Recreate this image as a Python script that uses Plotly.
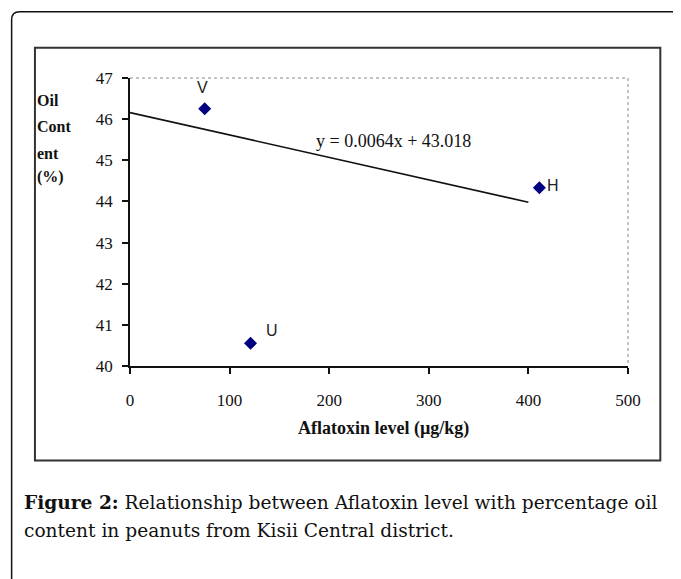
import plotly.graph_objects as go

# ---- data ----
aflatoxin = [75, 121, 411]          # µg/kg
oil_content = [46.25, 40.55, 44.33] # %
sample_labels = ["V", "U", "H"]
trend_x = [0, 400]
trend_y = [46.16, 43.98]
equation_text = "y = 0.0064x + 43.018"
x_ticks = [0, 100, 200, 300, 400, 500]
y_ticks = [40, 41, 42, 43, 44, 45, 46, 47]
y_title_lines = ["Oil", "Cont", "ent", "(%)"]
caption_line1 = "<b>Figure 2:</b> Relationship between Aflatoxin level with percentage oil"
caption_line2 = "content in peanuts from Kisii Central district."

W, H = 681, 579
OFF = 8  # page body margin in browser
L, R, T, B = 130, 627.7, 78, 365.7   # plot area in page pixels

def px(x):
    return (x - L) / (R - L)

def py(y):
    return (B - y) / (B - T)

SERIF = "Liberation Serif"

fig = go.Figure()

fig.add_trace(go.Scatter(
    x=trend_x, y=trend_y, mode="lines",
    line=dict(color="#111111", width=1.6),
    hoverinfo="skip", showlegend=False,
))

fig.add_trace(go.Scatter(
    x=aflatoxin, y=oil_content, mode="markers",
    marker=dict(symbol="diamond", size=10, color="#000080"),
    showlegend=False,
))

# point labels
label_offsets = {"V": (-2, -21), "U": (21, -13), "H": (14, -2)}
for xv, yv, lab in zip(aflatoxin, oil_content, sample_labels):
    dx, dy = label_offsets[lab]
    fig.add_annotation(x=xv, y=yv, text=lab, showarrow=False,
                       xshift=dx, yshift=-dy,
                       font=dict(family="Liberation Sans", size=16, color="#222222"))

fig.add_annotation(x=px(393), y=py(129), xref="paper", yref="paper",
                   text=equation_text, showarrow=False,
                   font=dict(family=SERIF, size=18, color="#111111"))

# y title as stacked lines
for t, yy in zip(y_title_lines, [100.5, 126.5, 153, 176.5]):
    fig.add_annotation(x=px(35), y=py(yy), xref="paper", yref="paper",
                       text="<b>" + t + "</b>", showarrow=False,
                       xanchor="left", yanchor="middle",
                       font=dict(family=SERIF, size=16, color="#111111"))

# x title
fig.add_annotation(x=px(383), y=py(428), xref="paper", yref="paper",
                   text="<b>Aflatoxin level (µg/kg)</b>", showarrow=False,
                   xanchor="center", yanchor="middle",
                   font=dict(family=SERIF, size=18, color="#111111"))

# caption
fig.add_annotation(x=px(22), y=py(502), xref="paper", yref="paper",
                   text=caption_line1, showarrow=False,
                   xanchor="left", yanchor="middle",
                   font=dict(family="DejaVu Serif", size=18.6, color="#111111"))
fig.add_annotation(x=px(22), y=py(530), xref="paper", yref="paper",
                   text=caption_line2, showarrow=False,
                   xanchor="left", yanchor="middle",
                   font=dict(family="DejaVu Serif", size=18.6, color="#111111"))

# dotted top/right frame of the plot area
fig.add_shape(type="path", xref="paper", yref="paper",
              path="M 0 1 L 1 1 L 1 0",
              line=dict(color="#888888", width=1, dash="dot"))

# inner chart box
fig.add_shape(type="rect", xref="paper", yref="paper",
              x0=px(35), x1=px(660), y0=py(460), y1=py(47.7),
              line=dict(color="#333333", width=2))

# outer rounded border (runs off right & bottom)
r = 8
x0, y0, x1, y1 = 11.7, 11.7, 700, 610
path = (f"M {px(x0)} {py(y1)} L {px(x0)} {py(y0 + r)} "
        f"Q {px(x0)} {py(y0)} {px(x0 + r)} {py(y0)} "
        f"L {px(x1)} {py(y0)}")
fig.add_shape(type="path", xref="paper", yref="paper", path=path,
              line=dict(color="#111111", width=1.5))

fig.update_xaxes(range=[0, 500], tickvals=x_ticks, ticktext=[str(v) for v in x_ticks],
                 showgrid=False, zeroline=False, showline=True,
                 linecolor="#111111", linewidth=1.5,
                 ticks="outside", ticklen=6, tickwidth=1.5, tickcolor="#111111",
                 ticklabelstandoff=12,
                 tickfont=dict(family=SERIF, size=17, color="#111111"))
fig.update_yaxes(range=[40, 47], tickvals=y_ticks,
                 showgrid=False, zeroline=False, showline=True,
                 linecolor="#111111", linewidth=1.5,
                 ticks="outside", ticklen=6, tickwidth=1.5, tickcolor="#111111",
                 ticklabelstandoff=6,
                 tickfont=dict(family=SERIF, size=17, color="#111111"))

fig.update_layout(
    width=W, height=H,
    margin=dict(l=L - OFF, r=W - R + OFF, t=T - OFF, b=H - B + OFF),
    paper_bgcolor="white", plot_bgcolor="white",
    showlegend=False,
)

fig.write_html("out.html")
